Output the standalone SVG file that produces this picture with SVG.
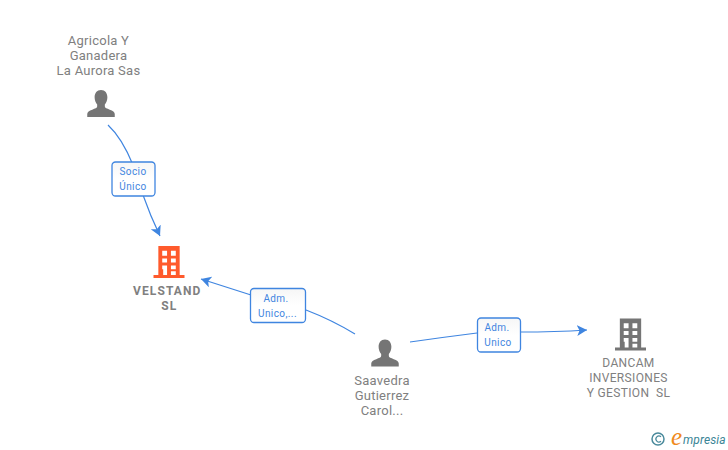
<svg xmlns="http://www.w3.org/2000/svg" width="728" height="450" viewBox="0 0 728 450">
<style>
text{font-family:Roboto,"Liberation Sans",Arial,sans-serif}
.n{font-size:13px;fill:#808080;text-anchor:middle;letter-spacing:.25px}
.b{font-size:12px;fill:#808080;text-anchor:middle;letter-spacing:.35px}
.v{font-size:12px;font-weight:bold;fill:#808080;text-anchor:middle;letter-spacing:1.1px}
.l{font-size:10px;fill:#3f85e0;text-anchor:middle;letter-spacing:.4px}
.e{fill:none;stroke:#3f85e0;stroke-width:1.2}
.box{fill:url(#bg);stroke:#3f85e0;stroke-width:1.3}
.p{fill:#757575}
</style>
<defs>
<linearGradient id="bg" x1="0" y1="0" x2="0" y2="1"><stop offset="0" stop-color="#f6f6f6"/><stop offset=".5" stop-color="#fff"/></linearGradient>
<symbol id="person" viewBox="0 0 28 28" overflow="visible">
<path d="M14 0c4.200 0 6.500 3.200 6.500 7.500 0 3-1 5.500-2.600 7.200v2.200c0 1.400 2.200 2.100 5 3.100 3.100 1.100 5.100 2.300 5.100 4.400V27.500H0V24.400c0-2.100 2-3.300 5.100-4.400 2.800-1 5-1.700 5-3.100v-2.200C8.500 13 7.500 10.500 7.500 7.500 7.500 3.200 9.800 0 14 0z"/>
</symbol>
<symbol id="building" viewBox="0 0 32 33" overflow="visible">
<path fill-rule="evenodd" d="M5 0H27V30H32V33H0V30H5ZM9 5v5h5V5ZM18 5v5h5V5ZM9 13v4h5v-4ZM18 13v4h5v-4ZM9 20v4h5v-4ZM18 20v4h5v-4ZM10 26v4h4v-6h-4ZM18 26v4h5v-4Z"/>
</symbol>
<marker id="arr" markerWidth="12" markerHeight="12" refX="10" refY="5.500" orient="auto" markerUnits="userSpaceOnUse">
<path d="M0 0L10 5.500L0 11L2.500 5.500Z" fill="#3f85e0"/>
</marker>
</defs>
<g id="connectors">
<path class="e" d="M108 125Q122 138 133 165"/>
<path class="e" d="M143 195Q150 215 160 236" marker-end="url(#arr)"/>
<path class="e" d="M251 295L201 279" marker-end="url(#arr)"/>
<path class="e" d="M306 310Q332 320 355 334"/>
<path class="e" d="M410 342Q445 337 477 333"/>
<path class="e" d="M520 332Q555 332 587 330" marker-end="url(#arr)"/>
</g>
<g id="edge-label-1"><rect class="box" x="112" y="162" width="43" height="34" rx="3.500"/><text class="l" x="133" y="175">Socio</text><text class="l" x="133" y="190">Único</text></g>
<g id="edge-label-2"><rect class="box" x="250.500" y="288.500" width="55" height="34" rx="3.500"/><text class="l" x="276" y="302">Adm.</text><text class="l" x="277.500" y="317">Unico,...</text></g>
<g id="edge-label-3"><rect class="box" x="477.500" y="318" width="43" height="34" rx="3.500"/><text class="l" x="497" y="331">Adm.</text><text class="l" x="498" y="346">Unico</text></g>
<g id="node-agricola">
<text class="n" x="98.500" y="45">Agricola Y</text><text class="n" x="98.500" y="60">Ganadera</text><text class="n" x="98.500" y="75">La Aurora Sas</text>
<use href="#person" class="p" x="87" y="90" width="28" height="27.500"/>
</g>
<g id="node-velstand">
<use href="#building" fill="#ff5a2c" x="153.500" y="245.500" width="31" height="33"/>
<text class="v" x="167.300" y="295">VELSTAND</text><text class="v" x="169.300" y="310">SL</text>
</g>
<g id="node-saavedra">
<use href="#person" class="p" x="371" y="339.500" width="28" height="27.500"/>
<text class="n" x="382" y="385">Saavedra</text><text class="n" x="382" y="400">Gutierrez</text><text class="n" x="382" y="415">Carol...</text>
</g>
<g id="node-dancam">
<use href="#building" fill="#757575" x="615" y="318" width="31" height="33"/>
<text class="b" x="628.500" y="367">DANCAM</text><text class="b" x="628.500" y="382">INVERSIONES</text><text class="b" x="628.500" y="397" xml:space="preserve">Y GESTION  SL</text>
</g>
<g id="logo">
<circle cx="658" cy="439" r="6" fill="none" stroke="#4a8a9c" stroke-width="1.500"/>
<path d="M661 436.800a3 3 0 1 0 0 4.400" fill="none" stroke="#4a8a9c" stroke-width="1.200"/>
<text x="671" y="445" font-size="25" font-style="italic" style="font-family:'Liberation Serif',serif" fill="#f08a1d">e</text>
<text x="683" y="444" font-size="12" font-style="italic" fill="#3a8596" letter-spacing=".1">mpresia</text>
</g>
</svg>
